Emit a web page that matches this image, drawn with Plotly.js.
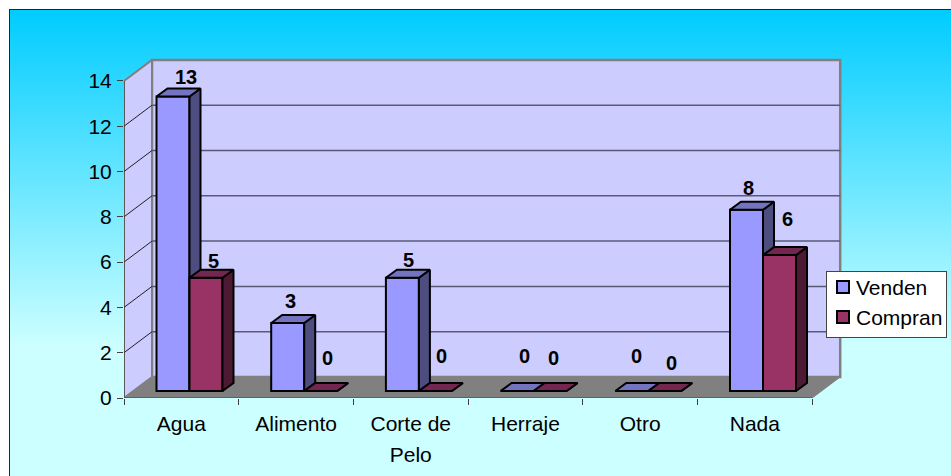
<!DOCTYPE html>
<html><head><meta charset="utf-8">
<script src="https://cdn.plot.ly/plotly-3.0.1.min.js"></script>
<style>
html,body{margin:0;padding:0;background:#fff;width:951px;height:476px;overflow:hidden}
#bg{position:absolute;left:9px;top:9px;width:942px;height:467px;box-sizing:border-box;border-left:1px solid #003040;border-top:1px solid #003040;background:linear-gradient(to bottom,#00ccff 0%,#ccffff 72%,#ccffff 100%)}
#chart{position:absolute;left:0;top:0;width:951px;height:476px}
</style></head><body>
<div id="bg"></div><div id="chart"></div>
<script>
const categories = ["Agua","Alimento","Corte de<br>Pelo","Herraje","Otro","Nada"];
const venden = [13,3,5,0,0,8];
const compran = [5,0,0,0,0,6];
const yTicks = [0,2,4,6,8,10,12,14];

// chart geometry, in axis units
const PX_X = 114.7, PX_Y = 22.65;
const depthX = 28/PX_X, depthY = 21/PX_Y;      // wall / floor depth
const barDX = 11/PX_X, barDY = 8/PX_Y;         // bar depth
const barBase = 7/PX_Y;                        // bars stand inside the floor
const barW = 33/PX_X, firstCentre = 49/PX_X;   // bar width, Venden offset in slot
const yMax = 14;
const n = categories.length;

// hand nudges of the data labels, in px [dx, dy up]
const nudgeV = [[12.7,19.3],[2.3,22],[5.6,17.8],[7.6,35.3],[4.9,35.3],[2.2,21.5]];
const nudgeC = [[7,16.8],[6.6,33.3],[5.6,35],[3.6,33.3],[6.5,27.7],[7.8,35.8]];

function wallTrace(pts, fill, line, w){
  return {type:'scatter',mode:'lines',x:pts.map(p=>p[0]),y:pts.map(p=>p[1]),fill:'toself',fillcolor:fill,
    line:{color:line,width:w},hoverinfo:'skip',showlegend:false,cliponaxis:false};
}
function lineTrace(xs,ys,color,w){
  return {type:'scatter',mode:'lines',x:xs,y:ys,line:{color:color,width:w},hoverinfo:'skip',showlegend:false,cliponaxis:false};
}

const traces = [];
traces.push(wallTrace([[depthX,depthY],[n+depthX,depthY],[n+depthX,yMax+depthY],[depthX,yMax+depthY],[depthX,depthY]],'#ccccff','#808080',2.5));
traces.push(wallTrace([[0,0],[depthX,depthY],[depthX,yMax+depthY],[0,yMax],[0,0]],'#ccccff','#808080',2));
traces.push(wallTrace([[0,0],[n,0],[n+depthX,depthY],[depthX,depthY],[0,0]],'#808080','#808080',1));
const gx=[],gy=[],sx=[],sy=[];
yTicks.slice(1,-1).forEach(t=>{
  gx.push(depthX,n+depthX,null); gy.push(t+depthY,t+depthY,null);
  sx.push(0,depthX,null); sy.push(t,t+depthY,null);
});
traces.push(lineTrace(gx,gy,'#5a5a78',1.5));
traces.push(lineTrace(sx,sy,'#202020',1));
traces.push(lineTrace([0,0,n],[yMax,0,0],'#404040',1.2));

function seriesTraces(name, values, offset, front, side, top, ax){
  const xs = values.map((_,i)=>i+firstCentre+offset);
  const sideX=[],sideY=[],topX=[],topY=[];
  values.forEach((v,i)=>{
    const l=xs[i]-barW/2, r=xs[i]+barW/2, b=barBase, t=barBase+v;
    sideX.push(r,r+barDX,r+barDX,r,r,null);
    sideY.push(b,b+barDY,t+barDY,t,b,null);
    topX.push(l,r,r+barDX,l+barDX,l,null);
    topY.push(t,t,t+barDY,t+barDY,t,null);
  });
  const common={type:'scatter',mode:'lines',fill:'toself',hoverinfo:'skip',showlegend:false,xaxis:'x'+ax,yaxis:'y'+ax,cliponaxis:false,line:{color:'#000',width:2}};
  return [
    {type:'bar',name:name,x:xs,y:values,base:barBase,width:barW,marker:{color:front,line:{color:'#000',width:2}},xaxis:'x'+ax,yaxis:'y'+ax,hoverinfo:'name+y',cliponaxis:false},
    Object.assign({},common,{x:sideX,y:sideY,fillcolor:side}),
    Object.assign({},common,{x:topX,y:topY,fillcolor:top})
  ];
}
traces.push(...seriesTraces('Venden',venden,0,'#9999ff','#4d4d80','#7373bf',2));
traces.push(...seriesTraces('Compran',compran,barW,'#993366','#4d1a33','#732650',3));

function labels(values,offset,nudge){
  return values.map((v,i)=>({x:i+firstCentre+offset,y:barBase+v,xref:'x',yref:'y',text:String(v),showarrow:false,
    xshift:nudge[i][0],yshift:nudge[i][1],xanchor:'center',yanchor:'middle',
    font:{family:'"Liberation Sans",Arial,sans-serif',size:20,color:'#000',weight:700}}));
}

const W=719,H=341;
const xr=[0,W/PX_X], yr=[0,H/PX_Y];
const hidden=a=>({overlaying:a==='x'?'x':'y',visible:false,fixedrange:true,range:a==='x'?xr:yr});
const font={family:'"Liberation Sans",Arial,sans-serif',size:21,color:'#000'};
const layout={
  width:951,height:476,
  paper_bgcolor:'rgba(0,0,0,0)',plot_bgcolor:'rgba(0,0,0,0)',
  margin:{l:124,r:951-124-W,t:57,b:476-57-H,autoexpand:false},
  font:font,barmode:'overlay',
  xaxis:{range:xr,fixedrange:true,showgrid:false,zeroline:false,showline:false,
    tickmode:'array',tickvals:categories.map((_,i)=>i+0.5),ticktext:categories,ticks:'',ticklabelstandoff:11,tickangle:0,
    minor:{tickmode:'array',tickvals:categories.map((_,i)=>i).concat([n]),ticks:'outside',ticklen:6,tickcolor:'#404040',tickwidth:1,showgrid:false},
    tickfont:font},
  yaxis:{range:yr,fixedrange:true,showgrid:false,zeroline:false,showline:false,
    tickmode:'array',tickvals:yTicks,ticks:'outside',ticklen:6,tickcolor:'#404040',tickwidth:1,tickfont:font,ticklabelstandoff:1},
  xaxis2:hidden('x'),yaxis2:hidden('y'),xaxis3:hidden('x'),yaxis3:hidden('y'),
  legend:{xref:'container',yref:'container',x:826/951,y:1-271/476,xanchor:'left',yanchor:'top',
    bgcolor:'#fff',bordercolor:'#444',borderwidth:1,font:font,traceorder:'normal',itemclick:false,itemdoubleclick:false},
  annotations:labels(venden,0,nudgeV).concat(labels(compran,barW,nudgeC)),
  showlegend:true
};
Plotly.newPlot('chart',traces,layout,{displayModeBar:false,staticPlot:true}).then(gd=>{
  // tighten the legend to the reference's narrow box
  const leg=gd.querySelector('.legend');
  leg.querySelectorAll('.legendtext').forEach(t=>{t.setAttribute('x','29');
    t.querySelectorAll('tspan').forEach(s=>{if(s.getAttribute('x'))s.setAttribute('x','29');});});
  leg.querySelectorAll('.legendsymbols').forEach(s=>s.setAttribute('transform','translate(-4,0)'));
  const bg=leg.querySelector('.bg'); if(bg){bg.setAttribute('width','120');bg.setAttribute('height','66');bg.style.strokeWidth='1px';}
  leg.querySelectorAll('.traces').forEach((t,i)=>t.setAttribute('transform','translate(1,'+(16+i*30)+')'));
  // wider line gap for the two-line category: only the continuation line
  gd.querySelectorAll('.xtick text tspan.line').forEach(s=>{
    const dy=s.getAttribute('dy'); if(dy && parseFloat(dy)!==0) s.setAttribute('dy','31px');
  });
});
</script></body></html>
